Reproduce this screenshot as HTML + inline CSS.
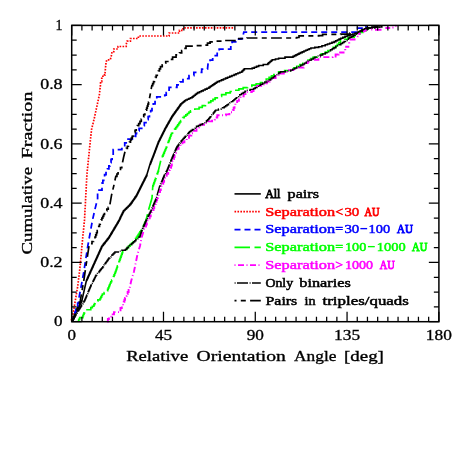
<!DOCTYPE html><html><head><meta charset="utf-8"><title>Cumulative Fraction</title>
<style>html,body{margin:0;padding:0;background:#fff;width:463px;height:463px;overflow:hidden;}svg{will-change:transform;display:block;position:absolute;left:0;top:0;}text{font-family:"Liberation Serif",serif;}</style></head><body>
<svg width="463" height="463" viewBox="0 0 463 463">
<rect x="0" y="0" width="463" height="463" fill="#fff"/>
<polyline fill="none" stroke="#000" stroke-width="1.6" stroke-linejoin="miter" points="72.00,321.00 72.36,321.00 72.36,320.18 72.73,320.18 72.73,319.36 73.09,319.36 73.09,318.55 73.45,318.55 73.45,317.73 73.82,317.73 73.82,316.91 74.18,316.91 74.18,316.09 74.55,316.09 74.55,315.27 74.91,315.27 74.91,314.45 75.27,314.45 75.27,313.64 75.64,313.64 75.64,312.82 76.00,312.82 76.00,312.00 76.40,312.00 76.40,311.20 76.80,311.20 76.80,310.40 77.20,310.40 77.20,309.60 77.60,309.60 77.60,308.80 78.00,308.80 78.00,308.00 78.40,308.00 78.40,307.20 78.80,307.20 78.80,306.40 79.20,306.40 79.20,305.60 79.60,305.60 79.60,304.80 80.00,304.80 80.00,304.00 80.40,304.00 80.40,303.20 80.80,303.20 80.80,302.40 81.20,302.40 81.20,301.60 81.60,301.60 81.60,300.80 82.00,300.80 82.00,300.00 86.40,280.50 86.75,280.50 86.75,279.71 87.11,279.71 87.11,278.93 87.46,278.93 87.46,278.14 87.82,278.14 87.82,277.35 88.17,277.35 88.17,276.57 88.53,276.57 88.53,275.78 88.88,275.78 88.88,275.00 89.24,275.00 89.24,274.21 89.59,274.21 89.59,273.42 89.95,273.42 89.95,272.64 90.30,272.64 90.30,271.85 90.65,271.85 90.65,271.06 91.01,271.06 91.01,270.28 91.36,270.28 91.36,269.49 91.72,269.49 91.72,268.70 92.07,268.70 92.07,267.92 92.43,267.92 92.43,267.13 92.78,267.13 92.78,266.35 93.14,266.35 93.14,265.56 93.49,265.56 93.49,264.77 93.85,264.77 93.85,263.99 94.20,263.99 94.20,263.20 94.57,263.20 94.57,262.38 94.94,262.38 94.94,261.56 95.31,261.56 95.31,260.74 95.69,260.74 95.69,259.92 96.06,259.92 96.06,259.10 96.43,259.10 96.43,258.29 96.80,258.29 96.80,257.47 97.17,257.47 97.17,256.65 97.54,256.65 97.54,255.83 97.91,255.83 97.91,255.01 98.29,255.01 98.29,254.19 98.66,254.19 98.66,253.37 99.03,253.37 99.03,252.55 99.40,252.55 99.40,251.73 99.77,251.73 99.77,250.91 100.14,250.91 100.14,250.10 100.51,250.10 100.51,249.28 100.89,249.28 100.89,248.46 101.26,248.46 101.26,247.64 101.63,247.64 101.63,246.82 102.00,246.82 102.00,246.00 102.63,246.00 102.63,245.21 103.25,245.21 103.25,244.42 103.88,244.42 103.88,243.63 104.51,243.63 104.51,242.84 105.14,242.84 105.14,242.05 105.76,242.05 105.76,241.25 106.39,241.25 106.39,240.46 107.02,240.46 107.02,239.67 107.65,239.67 107.65,238.88 108.27,238.88 108.27,238.09 108.90,238.09 108.90,237.30 109.37,237.30 109.37,236.51 109.84,236.51 109.84,235.73 110.30,235.73 110.30,234.94 110.77,234.94 110.77,234.15 111.24,234.15 111.24,233.37 111.71,233.37 111.71,232.58 112.18,232.58 112.18,231.80 112.65,231.80 112.65,231.01 113.11,231.01 113.11,230.22 113.58,230.22 113.58,229.44 114.05,229.44 114.05,228.65 114.52,228.65 114.52,227.86 114.99,227.86 114.99,227.08 115.45,227.08 115.45,226.29 115.92,226.29 115.92,225.50 116.39,225.50 116.39,224.72 116.86,224.72 116.86,223.93 117.33,223.93 117.33,223.15 117.80,223.15 117.80,222.36 118.26,222.36 118.26,221.57 118.73,221.57 118.73,220.79 119.20,220.79 119.20,220.00 119.56,220.00 119.56,219.20 119.92,219.20 119.92,218.40 120.28,218.40 120.28,217.60 120.64,217.60 120.64,216.80 121.00,216.80 121.00,216.00 121.43,216.00 121.43,215.13 121.87,215.13 121.87,214.27 122.30,214.27 122.30,213.40 122.73,213.40 122.73,212.53 123.17,212.53 123.17,211.67 123.60,211.67 123.60,210.80 124.37,210.80 124.37,210.03 125.13,210.03 125.13,209.27 125.90,209.27 125.90,208.50 126.67,208.50 126.67,207.73 127.43,207.73 127.43,206.97 128.20,206.97 128.20,206.20 128.97,206.20 128.97,205.43 129.73,205.43 129.73,204.67 130.50,204.67 130.50,203.90 131.05,203.90 131.05,203.12 131.59,203.12 131.59,202.34 132.14,202.34 132.14,201.55 132.68,201.55 132.68,200.77 133.23,200.77 133.23,199.99 133.77,199.99 133.77,199.21 134.32,199.21 134.32,198.43 134.86,198.43 134.86,197.65 135.41,197.65 135.41,196.86 135.95,196.86 135.95,196.08 136.50,196.08 136.50,195.30 136.90,195.30 136.90,194.50 137.30,194.50 137.30,193.70 137.70,193.70 137.70,192.90 138.10,192.90 138.10,192.10 138.50,192.10 138.50,191.30 138.90,191.30 138.90,190.50 139.30,190.50 139.30,189.70 139.70,189.70 139.70,188.90 140.10,188.90 140.10,188.10 140.50,188.10 140.50,187.30 140.90,187.30 140.90,186.50 141.30,186.50 141.30,185.70 141.70,185.70 141.70,184.90 142.10,184.90 142.10,184.11 142.50,184.11 142.50,183.32 142.90,183.32 142.90,182.52 143.30,182.52 143.30,181.73 143.70,181.73 143.70,180.94 144.10,180.94 144.10,180.15 144.50,180.15 144.50,179.35 144.90,179.35 144.90,178.56 145.30,178.56 145.30,177.77 145.70,177.77 145.70,176.98 146.10,176.98 146.10,176.18 146.50,176.18 146.50,175.39 146.90,175.39 146.90,174.60 150.00,164.20 150.30,164.20 150.30,163.43 150.60,163.43 150.60,162.65 150.90,162.65 150.90,161.88 151.20,161.88 151.20,161.11 151.50,161.11 151.50,160.34 151.80,160.34 151.80,159.56 152.10,159.56 152.10,158.79 152.40,158.79 152.40,158.02 152.70,158.02 152.70,157.25 153.00,157.25 153.00,156.47 153.30,156.47 153.30,155.70 153.61,155.70 153.61,154.88 153.91,154.88 153.91,154.06 154.22,154.06 154.22,153.25 154.52,153.25 154.52,152.43 154.83,152.43 154.83,151.61 155.14,151.61 155.14,150.79 155.44,150.79 155.44,149.98 155.75,149.98 155.75,149.16 156.05,149.16 156.05,148.34 156.36,148.34 156.36,147.52 156.66,147.52 156.66,146.71 156.97,146.71 156.97,145.89 157.28,145.89 157.28,145.07 157.58,145.07 157.58,144.25 157.89,144.25 157.89,143.44 158.19,143.44 158.19,142.62 158.50,142.62 158.50,141.80 158.91,141.80 158.91,140.99 159.31,140.99 159.31,140.18 159.72,140.18 159.72,139.36 160.12,139.36 160.12,138.55 160.53,138.55 160.53,137.74 160.94,137.74 160.94,136.93 161.34,136.93 161.34,136.12 161.75,136.12 161.75,135.31 162.15,135.31 162.15,134.49 162.56,134.49 162.56,133.68 162.96,133.68 162.96,132.87 163.37,132.87 163.37,132.06 163.78,132.06 163.78,131.25 164.18,131.25 164.18,130.44 164.59,130.44 164.59,129.62 164.99,129.62 164.99,128.81 165.40,128.81 165.40,128.00 165.86,128.00 165.86,127.19 166.32,127.19 166.32,126.39 166.78,126.39 166.78,125.58 167.24,125.58 167.24,124.77 167.70,124.77 167.70,123.97 168.16,123.97 168.16,123.16 168.62,123.16 168.62,122.35 169.08,122.35 169.08,121.55 169.54,121.55 169.54,120.74 170.00,120.74 170.00,119.93 170.46,119.93 170.46,119.13 170.92,119.13 170.92,118.32 171.38,118.32 171.38,117.51 171.84,117.51 171.84,116.71 172.30,116.71 172.30,115.90 172.88,115.90 172.88,115.09 173.46,115.09 173.46,114.29 174.04,114.29 174.04,113.48 174.62,113.48 174.62,112.67 175.20,112.67 175.20,111.87 175.78,111.87 175.78,111.06 176.36,111.06 176.36,110.25 176.94,110.25 176.94,109.45 177.52,109.45 177.52,108.64 178.10,108.64 178.10,107.83 178.68,107.83 178.68,107.03 179.26,107.03 179.26,106.22 179.84,106.22 179.84,105.41 180.42,105.41 180.42,104.61 181.00,104.61 181.00,103.80 181.92,103.80 181.92,103.04 182.84,103.04 182.84,102.28 183.76,102.28 183.76,101.52 184.68,101.52 184.68,100.76 185.60,100.76 185.60,100.00 187.25,100.00 187.25,99.22 188.90,99.22 188.90,98.45 190.55,98.45 190.55,97.68 192.20,97.68 192.20,96.90 193.28,96.90 193.28,96.04 194.36,96.04 194.36,95.18 195.44,95.18 195.44,94.32 196.52,94.32 196.52,93.46 197.60,93.46 197.60,92.60 199.48,92.60 199.48,91.73 201.37,91.73 201.37,90.87 203.25,90.87 203.25,90.00 205.13,90.00 205.13,89.13 207.02,89.13 207.02,88.27 208.90,88.27 208.90,87.40 210.10,87.40 210.10,86.57 211.30,86.57 211.30,85.74 212.50,85.74 212.50,84.91 213.70,84.91 213.70,84.09 214.90,84.09 214.90,83.26 216.10,83.26 216.10,82.43 217.30,82.43 217.30,81.60 219.36,81.60 219.36,80.74 221.42,80.74 221.42,79.88 223.48,79.88 223.48,79.02 225.54,79.02 225.54,78.16 227.60,78.16 227.60,77.30 229.77,77.30 229.77,76.40 231.93,76.40 231.93,75.50 234.10,75.50 234.10,74.60 236.03,74.60 236.03,73.80 237.95,73.80 237.95,73.00 239.88,73.00 239.88,72.20 241.80,72.20 241.80,71.40 242.67,71.40 242.67,70.53 243.53,70.53 243.53,69.67 244.40,69.67 244.40,68.80 252.20,68.80 252.20,68.10 254.37,68.10 254.37,67.23 256.53,67.23 256.53,66.37 258.70,66.37 258.70,65.50 263.25,65.50 263.25,64.55 267.80,64.55 267.80,63.60 268.70,63.60 268.70,62.82 269.60,62.82 269.60,62.04 270.50,62.04 270.50,61.26 271.40,61.26 271.40,60.48 272.30,60.48 272.30,59.70 275.45,59.70 275.45,59.00 278.60,59.00 278.60,58.30 285.00,58.30 285.00,57.10 291.50,57.10 293.00,57.10 293.00,56.35 294.50,56.35 294.50,55.60 296.00,55.60 296.00,54.85 297.50,54.85 297.50,54.10 299.00,54.10 299.00,53.35 300.50,53.35 300.50,52.60 302.23,52.60 302.23,51.83 303.97,51.83 303.97,51.07 305.70,51.07 305.70,50.30 307.43,50.30 307.43,49.53 309.17,49.53 309.17,48.77 310.90,48.77 310.90,48.00 314.80,48.00 314.80,47.35 318.70,47.35 318.70,46.70 321.95,46.70 321.95,45.75 325.20,45.75 325.20,44.80 327.45,44.80 327.45,44.00 329.70,44.00 329.70,43.20 331.95,43.20 331.95,42.40 334.20,42.40 334.20,41.60 335.82,41.60 335.82,40.77 337.45,40.77 337.45,39.95 339.07,39.95 339.07,39.12 340.70,39.12 340.70,38.30 342.85,38.30 342.85,37.35 345.00,37.35 345.00,36.40 347.52,36.40 347.52,35.58 350.04,35.58 350.04,34.76 352.56,34.76 352.56,33.94 355.08,33.94 355.08,33.12 357.60,33.12 357.60,32.30 359.34,32.30 359.34,31.44 361.08,31.44 361.08,30.58 362.82,30.58 362.82,29.72 364.56,29.72 364.56,28.86 366.30,28.86 366.30,28.00 372.00,28.00 372.00,27.00 381.80,27.00 381.80,26.80 381.80,25.80"/>
<polyline fill="none" stroke="#ff0000" stroke-width="1.7" stroke-linejoin="miter" stroke-dasharray="1.6 1.35" points="71.30,320.40 73.20,312.80 74.90,303.10 76.40,294.00 77.70,286.40 79.70,270.00 80.40,263.00 82.50,240.00 84.50,220.00 86.90,174.60 90.40,140.00 91.60,129.10 94.20,118.70 96.80,106.70 99.40,94.60 100.50,84.60 100.60,81.60 101.75,81.60 101.75,78.25 102.90,78.25 102.90,74.90 105.10,74.90 105.10,72.30 106.00,62.60 106.80,59.80 110.30,59.80 111.60,54.80 112.00,51.60 113.80,51.60 113.80,49.00 116.70,49.00 118.00,49.00 118.00,46.50 124.50,46.50 126.20,46.50 126.20,44.40 127.10,41.20 130.40,41.20 130.40,38.50 137.10,38.50 138.40,38.50 138.40,36.00 164.80,36.00 169.10,36.00 169.10,33.00 174.30,33.00 179.50,33.00 179.50,30.40 183.00,30.40 183.00,27.80 234.80,27.80"/>
<polyline fill="none" stroke="#0000ff" stroke-width="1.75" stroke-linejoin="miter" stroke-dasharray="6 4" points="72.00,321.00 72.94,321.00 72.94,318.00 73.89,318.00 73.89,315.00 74.83,315.00 74.83,312.00 75.77,312.00 75.77,309.00 76.71,309.00 76.71,306.00 77.66,306.00 77.66,303.00 78.60,303.00 78.60,300.00 83.80,272.00 87.80,246.00 92.50,220.00 95.00,209.10 97.60,198.70 97.60,190.00 102.00,190.00 102.00,183.20 102.87,183.20 102.87,180.33 103.73,180.33 103.73,177.47 104.60,177.47 104.60,174.60 106.03,174.60 106.03,171.70 107.47,171.70 107.47,168.80 108.90,168.80 108.90,165.90 109.98,165.90 109.98,162.68 111.05,162.68 111.05,159.45 112.12,159.45 112.12,156.22 113.20,156.22 113.20,153.00 113.20,149.50 121.80,149.50 121.80,148.60 123.27,148.60 123.27,145.73 124.73,145.73 124.73,142.87 126.20,142.87 126.20,140.00 126.20,139.00 134.00,139.00 134.83,139.00 134.83,136.27 135.67,136.27 135.67,133.53 136.50,133.53 136.50,130.80 139.10,130.80 139.10,128.25 141.70,128.25 141.70,125.70 144.30,125.70 144.30,122.65 146.90,122.65 146.90,119.60 148.17,119.60 148.17,116.63 149.43,116.63 149.43,113.67 150.70,113.67 150.70,110.70 152.00,110.70 152.00,107.25 153.30,107.25 153.30,103.80 155.05,103.80 155.05,100.35 156.80,100.35 156.80,96.90 164.80,96.90 164.80,95.20 166.23,95.20 166.23,92.60 167.67,92.60 167.67,90.00 169.10,90.00 169.10,87.40 176.90,87.40 176.90,84.80 179.95,84.80 179.95,81.75 183.00,81.75 183.00,78.70 189.00,78.70 189.00,75.50 193.90,75.50 193.90,72.30 200.40,72.30 201.70,72.30 201.70,69.10 207.50,69.10 208.10,63.20 210.10,63.20 210.10,60.00 212.70,60.00 212.70,57.40 215.30,57.40 215.30,55.50 217.20,55.50 217.20,51.60 219.20,51.60 219.20,49.00 230.80,49.00 230.80,43.80 232.10,43.80 232.10,41.80 236.70,41.80 236.70,39.00 241.00,39.00 241.00,38.50 243.30,38.50 243.30,34.50 243.80,32.00 355.90,32.00 355.90,32.20 357.60,32.20 357.60,28.00 364.60,28.00 366.00,28.00 366.00,25.50"/>
<polyline fill="none" stroke="#00ff00" stroke-width="1.65" stroke-linejoin="miter" stroke-dasharray="15.5 4.5" points="77.70,321.20 78.70,321.20 78.70,319.40 79.70,319.40 79.70,317.60 82.90,317.60 82.90,315.60 83.47,315.60 83.47,314.20 84.03,314.20 84.03,312.80 84.60,312.80 84.60,311.40 85.30,311.40 85.30,309.70 90.80,309.70 90.80,307.60 92.35,307.60 92.35,306.25 93.90,306.25 93.90,304.90 94.47,304.90 94.47,303.63 95.03,303.63 95.03,302.37 95.60,302.37 95.60,301.10 97.80,301.10 97.80,299.85 100.00,299.85 100.00,298.60 100.80,298.60 100.80,297.07 101.60,297.07 101.60,295.53 102.40,295.53 102.40,294.00 104.13,294.00 104.13,292.47 105.87,292.47 105.87,290.93 107.60,290.93 107.60,289.40 108.24,289.40 108.24,287.86 108.88,287.86 108.88,286.32 109.52,286.32 109.52,284.78 110.16,284.78 110.16,283.24 110.80,283.24 110.80,281.70 111.67,281.70 111.67,279.97 112.53,279.97 112.53,278.23 113.40,278.23 113.40,276.50 114.05,276.50 114.05,274.88 114.70,274.88 114.70,273.25 115.35,273.25 115.35,271.62 116.00,271.62 116.00,270.00 116.48,270.00 116.48,268.64 116.96,268.64 116.96,267.28 117.44,267.28 117.44,265.92 117.92,265.92 117.92,264.56 118.40,264.56 118.40,263.20 118.94,263.20 118.94,261.69 119.48,261.69 119.48,260.18 120.01,260.18 120.01,258.66 120.55,258.66 120.55,257.15 121.09,257.15 121.09,255.64 121.62,255.64 121.62,254.12 122.16,254.12 122.16,252.61 122.70,252.61 122.70,251.10 124.85,251.10 124.85,249.35 127.00,249.35 127.00,247.60 128.54,247.60 128.54,246.08 130.08,246.08 130.08,244.56 131.62,244.56 131.62,243.04 133.16,243.04 133.16,241.52 134.70,241.52 134.70,240.00 135.57,240.00 135.57,238.67 136.43,238.67 136.43,237.33 137.30,237.33 137.30,236.00 138.16,236.00 138.16,234.62 139.02,234.62 139.02,233.24 139.88,233.24 139.88,231.86 140.74,231.86 140.74,230.48 141.60,230.48 141.60,229.10 142.32,229.10 142.32,227.67 143.03,227.67 143.03,226.23 143.75,226.23 143.75,224.80 144.47,224.80 144.47,223.37 145.18,223.37 145.18,221.93 145.90,221.93 145.90,220.50 148.50,210.10 152.00,198.00 152.80,185.90 153.34,185.90 153.34,184.39 153.88,184.39 153.88,182.88 154.41,182.88 154.41,181.36 154.95,181.36 154.95,179.85 155.49,179.85 155.49,178.34 156.03,178.34 156.03,176.83 156.56,176.83 156.56,175.31 157.10,175.31 157.10,173.80 157.57,173.80 157.57,172.53 158.03,172.53 158.03,171.27 158.50,171.27 158.50,170.00 161.10,159.10 161.75,159.10 161.75,157.59 162.40,157.59 162.40,156.07 163.05,156.07 163.05,154.56 163.70,154.56 163.70,153.05 164.35,153.05 164.35,151.54 165.00,151.54 165.00,150.03 165.65,150.03 165.65,148.51 166.30,148.51 166.30,147.00 166.88,147.00 166.88,145.47 167.46,145.47 167.46,143.93 168.03,143.93 168.03,142.40 168.61,142.40 168.61,140.87 169.19,140.87 169.19,139.33 169.77,139.33 169.77,137.80 170.34,137.80 170.34,136.27 170.92,136.27 170.92,134.73 171.50,134.73 171.50,133.20 172.54,133.20 172.54,131.82 173.58,131.82 173.58,130.44 174.62,130.44 174.62,129.06 175.66,129.06 175.66,127.68 176.70,127.68 176.70,126.30 177.70,126.30 177.70,124.85 178.70,124.85 178.70,123.40 179.70,123.40 179.70,121.95 180.70,121.95 180.70,120.50 181.70,120.50 181.70,119.05 182.70,119.05 182.70,117.60 184.26,117.60 184.26,116.22 185.82,116.22 185.82,114.84 187.38,114.84 187.38,113.46 188.94,113.46 188.94,112.08 190.50,112.08 190.50,110.70 194.80,110.70 194.80,109.00 199.10,109.00 199.10,107.30 202.27,107.30 202.27,105.63 205.43,105.63 205.43,103.97 208.60,103.97 208.60,102.30 210.78,102.30 210.78,100.80 212.95,100.80 212.95,99.30 215.12,99.30 215.12,97.80 217.30,97.80 217.30,96.30 221.60,96.30 221.60,94.55 225.90,94.55 225.90,92.80 230.25,92.80 230.25,91.50 234.60,91.50 234.60,90.20 238.90,90.20 238.90,88.90 243.20,88.90 243.20,87.60 247.50,87.60 247.50,86.35 251.80,86.35 251.80,85.10 256.15,85.10 256.15,83.80 260.50,83.80 260.50,82.50 263.37,82.50 263.37,80.77 266.23,80.77 266.23,79.03 269.10,79.03 269.10,77.30 271.48,77.30 271.48,75.92 273.85,75.92 273.85,74.55 276.23,74.55 276.23,73.17 278.60,73.17 278.60,71.80 284.65,71.80 284.65,70.50 290.70,70.50 290.70,69.20 293.73,69.20 293.73,67.70 296.75,67.70 296.75,66.20 299.77,66.20 299.77,64.70 302.80,64.70 302.80,63.20 305.40,63.20 305.40,61.68 308.00,61.68 308.00,60.15 310.60,60.15 310.60,58.62 313.20,58.62 313.20,57.10 317.23,57.10 317.23,55.40 321.27,55.40 321.27,53.70 325.30,53.70 325.30,52.00 327.90,52.00 327.90,50.48 330.50,50.48 330.50,48.95 333.10,48.95 333.10,47.42 335.70,47.42 335.70,45.90 337.30,45.90 337.30,44.23 338.90,44.23 338.90,42.55 340.50,42.55 340.50,40.88 342.10,40.88 342.10,39.20 348.15,39.20 348.15,37.45 354.20,37.45 354.20,35.70 357.07,35.70 357.07,34.00 359.93,34.00 359.93,32.30 362.80,32.30 362.80,30.60 366.25,30.60 366.25,28.85 369.70,28.85 369.70,27.10"/>
<polyline fill="none" stroke="#ff00ff" stroke-width="1.9" stroke-linejoin="miter" stroke-dasharray="6 2.5 1 2.5" points="106.90,321.50 107.90,321.50 107.90,319.05 108.90,319.05 108.90,316.60 111.45,316.60 111.45,314.35 114.00,314.35 114.00,312.10 119.20,312.10 119.20,310.20 120.50,310.20 120.50,308.03 121.80,308.03 121.80,305.87 123.10,305.87 123.10,303.70 123.75,303.70 123.75,301.75 124.40,301.75 124.40,299.80 125.05,299.80 125.05,297.85 125.70,297.85 125.70,295.90 126.67,295.90 126.67,293.95 127.65,293.95 127.65,292.00 128.62,292.00 128.62,290.05 129.60,290.05 129.60,288.10 131.30,280.50 133.90,271.80 135.70,263.20 137.40,254.60 140.00,245.90 141.70,237.30 144.30,228.60 145.12,228.60 145.12,226.57 145.95,226.57 145.95,224.55 146.78,224.55 146.78,222.53 147.60,222.53 147.60,220.50 148.64,220.50 148.64,218.42 149.68,218.42 149.68,216.34 150.72,216.34 150.72,214.26 151.76,214.26 151.76,212.18 152.80,212.18 152.80,210.10 153.52,210.10 153.52,208.08 154.23,208.08 154.23,206.07 154.95,206.07 154.95,204.05 155.67,204.05 155.67,202.03 156.38,202.03 156.38,200.02 157.10,200.02 157.10,198.00 157.83,198.00 157.83,195.98 158.57,195.98 158.57,193.97 159.30,193.97 159.30,191.95 160.03,191.95 160.03,189.93 160.77,189.93 160.77,187.92 161.50,187.92 161.50,185.90 162.37,185.90 162.37,183.88 163.23,183.88 163.23,181.87 164.10,181.87 164.10,179.85 164.97,179.85 164.97,177.83 165.83,177.83 165.83,175.82 166.70,175.82 166.70,173.80 168.20,173.80 168.20,171.90 169.70,171.90 169.70,170.00 170.40,170.00 170.40,167.82 171.10,167.82 171.10,165.64 171.80,165.64 171.80,163.46 172.50,163.46 172.50,161.28 173.20,161.28 173.20,159.10 173.90,159.10 173.90,157.02 174.60,157.02 174.60,154.94 175.30,154.94 175.30,152.86 176.00,152.86 176.00,150.78 176.70,150.78 176.70,148.70 178.62,148.70 178.62,146.55 180.55,146.55 180.55,144.40 182.47,144.40 182.47,142.25 184.40,142.25 184.40,140.10 186.70,140.10 186.70,137.80 189.00,137.80 189.00,135.50 191.30,135.50 191.30,133.20 193.90,133.20 193.90,130.90 196.50,130.90 196.50,128.60 199.10,128.60 199.10,126.30 200.00,126.30 200.00,124.80 204.03,124.80 204.03,123.07 208.07,123.07 208.07,121.33 212.10,121.33 212.10,119.60 214.70,119.60 214.70,117.45 217.30,117.45 217.30,115.30 225.90,115.30 225.90,114.40 229.35,114.40 229.35,112.25 232.80,112.25 232.80,110.10 233.67,110.10 233.67,107.80 234.53,107.80 234.53,105.50 235.40,105.50 235.40,103.20 237.13,103.20 237.13,100.90 238.87,100.90 238.87,98.60 240.60,98.60 240.60,96.30 243.65,96.30 243.65,94.15 246.70,94.15 246.70,92.00 251.80,92.00 251.80,91.10 253.53,91.10 253.53,89.37 255.27,89.37 255.27,87.63 257.00,87.63 257.00,85.90 263.90,85.90 263.90,83.30 266.80,83.30 266.80,81.57 269.70,81.57 269.70,79.83 272.60,79.83 272.60,78.10 275.60,78.10 275.60,75.85 278.60,75.85 278.60,73.60 283.80,73.60 283.80,71.85 289.00,71.85 289.00,70.10 295.90,70.10 295.90,67.50 303.70,67.50 303.70,64.90 305.70,64.90 305.70,63.17 307.70,63.17 307.70,61.43 309.70,61.43 309.70,59.70 318.40,59.70 318.40,57.10 330.50,57.10 332.60,57.10 332.60,56.50 335.60,56.50 335.60,54.50 338.60,54.50 338.60,52.50"/>
<polyline fill="none" stroke="#000" stroke-width="1.45" stroke-linejoin="miter" stroke-dasharray="11 1.6 1 1.4" points="72.00,321.00 72.57,321.00 72.57,320.00 73.14,320.00 73.14,319.00 73.71,319.00 73.71,318.00 74.29,318.00 74.29,317.00 74.86,317.00 74.86,316.00 75.43,316.00 75.43,315.00 76.00,315.00 76.00,314.00 76.62,314.00 76.62,313.00 77.24,313.00 77.24,312.00 77.86,312.00 77.86,311.00 78.49,311.00 78.49,310.00 79.11,310.00 79.11,309.00 79.73,309.00 79.73,308.00 80.35,308.00 80.35,307.00 80.97,307.00 80.97,306.00 81.59,306.00 81.59,305.00 82.21,305.00 82.21,304.00 82.84,304.00 82.84,303.00 83.46,303.00 83.46,302.00 84.08,302.00 84.08,301.00 84.70,301.00 84.70,300.00 85.13,300.00 85.13,298.98 85.56,298.98 85.56,297.96 85.99,297.96 85.99,296.94 86.41,296.94 86.41,295.91 86.84,295.91 86.84,294.89 87.27,294.89 87.27,293.87 87.70,293.87 87.70,292.85 88.13,292.85 88.13,291.83 88.56,291.83 88.56,290.81 88.99,290.81 88.99,289.79 89.41,289.79 89.41,288.76 89.84,288.76 89.84,287.74 90.27,287.74 90.27,286.72 90.70,286.72 90.70,285.70 91.22,285.70 91.22,284.66 91.74,284.66 91.74,283.62 92.26,283.62 92.26,282.58 92.78,282.58 92.78,281.54 93.30,281.54 93.30,280.50 93.82,280.50 93.82,279.46 94.34,279.46 94.34,278.42 94.86,278.42 94.86,277.38 95.38,277.38 95.38,276.34 95.90,276.34 95.90,275.30 96.67,275.30 96.67,274.34 97.43,274.34 97.43,273.39 98.20,273.39 98.20,272.43 98.97,272.43 98.97,271.48 99.73,271.48 99.73,270.52 100.50,270.52 100.50,269.57 101.27,269.57 101.27,268.61 102.03,268.61 102.03,267.66 102.80,267.66 102.80,266.70 103.48,266.70 103.48,265.73 104.16,265.73 104.16,264.77 104.83,264.77 104.83,263.80 105.51,263.80 105.51,262.83 106.19,262.83 106.19,261.87 106.87,261.87 106.87,260.90 107.54,260.90 107.54,259.93 108.22,259.93 108.22,258.97 108.90,258.97 108.90,258.00 109.90,258.00 109.90,257.00 110.90,257.00 110.90,256.00 111.90,256.00 111.90,255.00 112.90,255.00 112.90,254.00 113.90,254.00 113.90,253.00 114.90,253.00 114.90,252.00 118.37,252.00 118.37,251.13 121.83,251.13 121.83,250.27 125.30,250.27 125.30,249.40 126.36,249.40 126.36,248.43 127.41,248.43 127.41,247.47 128.47,247.47 128.47,246.50 129.52,246.50 129.52,245.53 130.58,245.53 130.58,244.57 131.63,244.57 131.63,243.60 132.69,243.60 132.69,242.63 133.74,242.63 133.74,241.67 134.80,241.67 134.80,240.70 135.82,240.70 135.82,239.76 136.84,239.76 136.84,238.82 137.86,238.82 137.86,237.88 138.88,237.88 138.88,236.94 139.90,236.94 139.90,236.00 140.20,236.00 140.20,235.07 140.50,235.07 140.50,234.13 140.80,234.13 140.80,233.20 141.10,233.20 141.10,232.27 141.40,232.27 141.40,231.33 141.70,231.33 141.70,230.40 142.12,230.40 142.12,229.41 142.54,229.41 142.54,228.42 142.96,228.42 142.96,227.43 143.38,227.43 143.38,226.44 143.80,226.44 143.80,225.45 144.22,225.45 144.22,224.46 144.64,224.46 144.64,223.47 145.06,223.47 145.06,222.48 145.48,222.48 145.48,221.49 145.90,221.49 145.90,220.50 146.42,220.50 146.42,219.46 146.94,219.46 146.94,218.42 147.46,218.42 147.46,217.38 147.98,217.38 147.98,216.34 148.50,216.34 148.50,215.30 149.02,215.30 149.02,214.26 149.54,214.26 149.54,213.22 150.06,213.22 150.06,212.18 150.58,212.18 150.58,211.14 151.10,211.14 151.10,210.10 151.53,210.10 151.53,209.09 151.97,209.09 151.97,208.08 152.40,208.08 152.40,207.07 152.83,207.07 152.83,206.07 153.27,206.07 153.27,205.06 153.70,205.06 153.70,204.05 154.13,204.05 154.13,203.04 154.57,203.04 154.57,202.03 155.00,202.03 155.00,201.03 155.43,201.03 155.43,200.02 155.87,200.02 155.87,199.01 156.30,199.01 156.30,198.00 159.70,185.90 160.13,185.90 160.13,184.89 160.57,184.89 160.57,183.88 161.00,183.88 161.00,182.88 161.43,182.88 161.43,181.87 161.87,181.87 161.87,180.86 162.30,180.86 162.30,179.85 162.73,179.85 162.73,178.84 163.17,178.84 163.17,177.83 163.60,177.83 163.60,176.83 164.03,176.83 164.03,175.82 164.47,175.82 164.47,174.81 164.90,174.81 164.90,173.80 165.45,173.80 165.45,172.85 166.00,172.85 166.00,171.90 166.55,171.90 166.55,170.95 167.10,170.95 167.10,170.00 167.50,170.00 167.50,169.01 167.90,169.01 167.90,168.02 168.30,168.02 168.30,167.03 168.70,167.03 168.70,166.04 169.10,166.04 169.10,165.05 169.50,165.05 169.50,164.05 169.90,164.05 169.90,163.06 170.30,163.06 170.30,162.07 170.70,162.07 170.70,161.08 171.10,161.08 171.10,160.09 171.50,160.09 171.50,159.10 171.93,159.10 171.93,158.09 172.37,158.09 172.37,157.08 172.80,157.08 172.80,156.07 173.23,156.07 173.23,155.07 173.67,155.07 173.67,154.06 174.10,154.06 174.10,153.05 174.53,153.05 174.53,152.04 174.97,152.04 174.97,151.03 175.40,151.03 175.40,150.03 175.83,150.03 175.83,149.02 176.27,149.02 176.27,148.01 176.70,148.01 176.70,147.00 177.43,147.00 177.43,146.01 178.16,146.01 178.16,145.03 178.89,145.03 178.89,144.04 179.61,144.04 179.61,143.06 180.34,143.06 180.34,142.07 181.07,142.07 181.07,141.09 181.80,141.09 181.80,140.10 182.67,140.10 182.67,139.14 183.53,139.14 183.53,138.19 184.40,138.19 184.40,137.23 185.27,137.23 185.27,136.28 186.13,136.28 186.13,135.32 187.00,135.32 187.00,134.37 187.87,134.37 187.87,133.41 188.73,133.41 188.73,132.46 189.60,132.46 189.60,131.50 190.98,131.50 190.98,130.46 192.36,130.46 192.36,129.42 193.74,129.42 193.74,128.38 195.12,128.38 195.12,127.34 196.50,127.34 196.50,126.30 198.45,126.30 198.45,125.42 200.40,125.42 200.40,124.55 202.35,124.55 202.35,123.67 204.30,123.67 204.30,122.80 205.38,122.80 205.38,121.78 206.45,121.78 206.45,120.75 207.53,120.75 207.53,119.72 208.60,119.72 208.60,118.70 209.38,118.70 209.38,117.74 210.16,117.74 210.16,116.79 210.93,116.79 210.93,115.83 211.71,115.83 211.71,114.88 212.49,114.88 212.49,113.92 213.27,113.92 213.27,112.97 214.04,112.97 214.04,112.01 214.82,112.01 214.82,111.06 215.60,111.06 215.60,110.10 218.47,110.10 218.47,108.97 221.33,108.97 221.33,107.83 224.20,107.83 224.20,106.70 225.63,106.70 225.63,105.68 227.07,105.68 227.07,104.67 228.50,104.67 228.50,103.65 229.93,103.65 229.93,102.63 231.37,102.63 231.37,101.62 232.80,101.62 232.80,100.60 233.95,100.60 233.95,99.60 235.10,99.60 235.10,98.60 236.25,98.60 236.25,97.60 237.40,97.60 237.40,96.60 238.55,96.60 238.55,95.60 239.70,95.60 239.70,94.60 241.45,94.60 241.45,93.50 243.20,93.50 243.20,92.40 244.95,92.40 244.95,91.30 246.70,91.30 246.70,90.20 250.15,90.20 250.15,89.35 253.60,89.35 253.60,88.50 255.32,88.50 255.32,87.42 257.05,87.42 257.05,86.35 258.77,86.35 258.77,85.28 260.50,85.28 260.50,84.20 262.65,84.20 262.65,83.12 264.80,83.12 264.80,82.05 266.95,82.05 266.95,80.98 269.10,80.98 269.10,79.90 270.51,79.90 270.51,78.89 271.93,78.89 271.93,77.88 273.34,77.88 273.34,76.86 274.75,76.86 274.75,75.85 276.16,75.85 276.16,74.84 277.57,74.84 277.57,73.83 278.99,73.83 278.99,72.81 280.40,72.81 280.40,71.80 285.55,71.80 285.55,70.95 290.70,70.95 290.70,70.10 292.72,70.10 292.72,69.10 294.73,69.10 294.73,68.10 296.75,68.10 296.75,67.10 298.77,67.10 298.77,66.10 300.78,66.10 300.78,65.10 302.80,65.10 302.80,64.10 304.53,64.10 304.53,63.10 306.26,63.10 306.26,62.10 307.99,62.10 307.99,61.10 309.71,61.10 309.71,60.10 311.44,60.10 311.44,59.10 313.17,59.10 313.17,58.10 314.90,58.10 314.90,57.10 317.50,57.10 317.50,56.02 320.10,56.02 320.10,54.95 322.70,54.95 322.70,53.88 325.30,53.88 325.30,52.80 327.03,52.80 327.03,51.80 328.77,51.80 328.77,50.80 330.50,50.80 330.50,49.80 332.23,49.80 332.23,48.80 333.97,48.80 333.97,47.80 335.70,47.80 335.70,46.80 337.43,46.80 337.43,45.72 339.15,45.72 339.15,44.65 340.88,44.65 340.88,43.58 342.60,43.58 342.60,42.50 344.08,42.50 344.08,41.46 345.56,41.46 345.56,40.42 347.04,40.42 347.04,39.38 348.52,39.38 348.52,38.34 350.00,38.34 350.00,37.30 351.67,37.30 351.67,36.25 353.33,36.25 353.33,35.20 355.00,35.20 355.00,34.15 356.67,34.15 356.67,33.10 358.33,33.10 358.33,32.05 360.00,32.05 360.00,31.00 362.67,31.00 362.67,30.00 365.33,30.00 365.33,29.00 368.00,29.00 368.00,28.00 372.00,28.00 372.00,27.20 380.00,27.20 380.00,25.80"/>
<polyline fill="none" stroke="#000" stroke-width="1.7" stroke-linejoin="miter" stroke-dasharray="10.8 4.3 5 4.3" points="72.00,321.00 72.84,321.00 72.84,318.90 73.68,318.90 73.68,316.80 74.52,316.80 74.52,314.70 75.36,314.70 75.36,312.60 76.20,312.60 76.20,310.50 77.04,310.50 77.04,308.40 77.88,308.40 77.88,306.30 78.72,306.30 78.72,304.20 79.56,304.20 79.56,302.10 80.40,302.10 80.40,300.00 83.80,280.50 86.40,263.00 89.00,246.00 90.50,246.00 90.50,243.75 92.00,243.75 92.00,241.50 93.50,241.50 93.50,239.25 95.00,239.25 95.00,237.00 95.75,237.00 95.75,234.88 96.50,234.88 96.50,232.75 97.25,232.75 97.25,230.62 98.00,230.62 98.00,228.50 98.75,228.50 98.75,226.38 99.50,226.38 99.50,224.25 100.25,224.25 100.25,222.12 101.00,222.12 101.00,220.00 101.88,220.00 101.88,218.16 102.76,218.16 102.76,216.32 103.64,216.32 103.64,214.48 104.52,214.48 104.52,212.64 105.40,212.64 105.40,210.80 106.83,210.80 106.83,209.10 108.27,209.10 108.27,207.40 109.70,207.40 109.70,205.70 111.50,195.30 114.00,184.90 115.80,176.30 116.93,176.30 116.93,174.00 118.07,174.00 118.07,171.70 119.20,171.70 119.20,169.40 120.50,169.40 120.50,167.65 121.80,167.65 121.80,165.90 123.60,157.30 125.30,150.40 126.34,150.40 126.34,148.32 127.38,148.32 127.38,146.24 128.42,146.24 128.42,144.16 129.46,144.16 129.46,142.08 130.50,142.08 130.50,140.00 131.35,140.00 131.35,138.15 132.20,138.15 132.20,136.30 133.05,136.30 133.05,134.45 133.90,134.45 133.90,132.60 135.07,132.60 135.07,130.30 136.23,130.30 136.23,128.00 137.40,128.00 137.40,125.70 138.70,125.70 138.70,123.53 140.00,123.53 140.00,121.35 141.30,121.35 141.30,119.17 142.60,119.17 142.60,117.00 143.73,117.00 143.73,114.70 144.87,114.70 144.87,112.40 146.00,112.40 146.00,110.10 146.64,110.10 146.64,108.08 147.28,108.08 147.28,106.06 147.92,106.06 147.92,104.04 148.56,104.04 148.56,102.02 149.20,102.02 149.20,100.00 151.80,85.70 152.68,85.70 152.68,83.62 153.56,83.62 153.56,81.54 154.44,81.54 154.44,79.46 155.32,79.46 155.32,77.38 156.20,77.38 156.20,75.30 157.27,75.30 157.27,73.15 158.35,73.15 158.35,71.00 159.43,71.00 159.43,68.85 160.50,68.85 160.50,66.70 162.23,66.70 162.23,64.97 163.97,64.97 163.97,63.23 165.70,63.23 165.70,61.50 169.15,61.50 169.15,59.30 172.60,59.30 172.60,57.10 176.05,57.10 176.05,54.95 179.50,54.95 179.50,52.80 181.67,52.80 181.67,50.60 183.83,50.60 183.83,48.40 186.00,48.40 186.00,46.20 195.90,46.20 195.90,45.70 203.00,45.70 203.00,45.10 207.50,45.10 207.50,43.10 210.10,43.10 210.10,41.80 214.60,41.80 214.60,41.20 223.70,41.20 223.70,40.50 234.00,40.50 234.00,40.70 236.70,40.70 236.70,38.60 247.00,38.60 247.00,38.00 296.70,38.00 296.70,37.50 299.00,37.50 299.00,35.80 318.70,35.80 318.70,35.70 322.60,35.70 322.60,34.40 340.70,34.40 340.70,34.20 350.00,34.20 350.00,33.00 358.00,33.00 358.00,31.00 362.00,31.00 362.00,29.50 366.00,29.50 366.00,28.00 375.00,28.00 375.00,27.20 381.00,27.20 381.00,25.80"/>
<path fill="none" stroke="#ff00ff" stroke-width="2.0" d="M339.2 52.6L344.5 52.6M345.2 50.3L345.2 49.1M345.2 46.7L349.3 46.7M349.2 43.5L349.2 42.3M349.7 39.6L355.5 39.6M357.3 36.9L357.9 36.0M358.3 34.4L360.7 33.2M363.3 31.8L366.6 29.9M371.2 29.6L372.3 29.6M375 29.8L381.5 29.8M385.4 28.0L390.2 27.9M392.4 27.5L393.5 27.4M395.2 26.3L396.2 25.6"/>
<rect x="71.7" y="25.4" width="367.2" height="296.3" fill="none" stroke="#000" stroke-width="1.5"/>
<path d="M71.70 321.7v-10M71.70 25.4v10M81.90 321.7v-5M81.90 25.4v5M92.10 321.7v-5M92.10 25.4v5M102.30 321.7v-5M102.30 25.4v5M112.49 321.7v-5M112.49 25.4v5M122.69 321.7v-5M122.69 25.4v5M132.89 321.7v-5M132.89 25.4v5M143.09 321.7v-5M143.09 25.4v5M153.29 321.7v-5M153.29 25.4v5M163.49 321.7v-10M163.49 25.4v10M173.69 321.7v-5M173.69 25.4v5M183.88 321.7v-5M183.88 25.4v5M194.08 321.7v-5M194.08 25.4v5M204.28 321.7v-5M204.28 25.4v5M214.48 321.7v-5M214.48 25.4v5M224.68 321.7v-5M224.68 25.4v5M234.88 321.7v-5M234.88 25.4v5M245.08 321.7v-5M245.08 25.4v5M255.28 321.7v-10M255.28 25.4v10M265.47 321.7v-5M265.47 25.4v5M275.67 321.7v-5M275.67 25.4v5M285.87 321.7v-5M285.87 25.4v5M296.07 321.7v-5M296.07 25.4v5M306.27 321.7v-5M306.27 25.4v5M316.47 321.7v-5M316.47 25.4v5M326.67 321.7v-5M326.67 25.4v5M336.86 321.7v-5M336.86 25.4v5M347.06 321.7v-10M347.06 25.4v10M357.26 321.7v-5M357.26 25.4v5M367.46 321.7v-5M367.46 25.4v5M377.66 321.7v-5M377.66 25.4v5M387.86 321.7v-5M387.86 25.4v5M398.06 321.7v-5M398.06 25.4v5M408.25 321.7v-5M408.25 25.4v5M418.45 321.7v-5M418.45 25.4v5M428.65 321.7v-5M428.65 25.4v5M438.85 321.7v-10M438.85 25.4v10M71.7 321.70h10M438.85 321.70h-10M71.7 306.88h5M438.85 306.88h-5M71.7 292.07h5M438.85 292.07h-5M71.7 277.25h5M438.85 277.25h-5M71.7 262.44h10M438.85 262.44h-10M71.7 247.62h5M438.85 247.62h-5M71.7 232.81h5M438.85 232.81h-5M71.7 218.00h5M438.85 218.00h-5M71.7 203.18h10M438.85 203.18h-10M71.7 188.36h5M438.85 188.36h-5M71.7 173.55h5M438.85 173.55h-5M71.7 158.73h5M438.85 158.73h-5M71.7 143.92h10M438.85 143.92h-10M71.7 129.10h5M438.85 129.10h-5M71.7 114.29h5M438.85 114.29h-5M71.7 99.47h5M438.85 99.47h-5M71.7 84.66h10M438.85 84.66h-10M71.7 69.84h5M438.85 69.84h-5M71.7 55.03h5M438.85 55.03h-5M71.7 40.21h5M438.85 40.21h-5M71.7 25.40h10M438.85 25.40h-10" stroke="#000" stroke-width="1.25" fill="none"/>
<text x="67.5" y="340.2" font-size="14.5" font-weight="normal" fill="#000" text-anchor="start" textLength="8.5" lengthAdjust="spacingAndGlyphs" stroke="#000" stroke-width="0.3">0</text>
<text x="154.9" y="340.2" font-size="14.5" font-weight="normal" fill="#000" text-anchor="start" textLength="17.2" lengthAdjust="spacingAndGlyphs" stroke="#000" stroke-width="0.3">45</text>
<text x="246.7" y="340.2" font-size="14.5" font-weight="normal" fill="#000" text-anchor="start" textLength="17.2" lengthAdjust="spacingAndGlyphs" stroke="#000" stroke-width="0.3">90</text>
<text x="334.1" y="340.2" font-size="14.5" font-weight="normal" fill="#000" text-anchor="start" textLength="26" lengthAdjust="spacingAndGlyphs" stroke="#000" stroke-width="0.3">135</text>
<text x="425.8" y="340.2" font-size="14.5" font-weight="normal" fill="#000" text-anchor="start" textLength="26" lengthAdjust="spacingAndGlyphs" stroke="#000" stroke-width="0.3">180</text>
<text x="54.1" y="326.4" font-size="14.5" font-weight="normal" fill="#000" text-anchor="start" textLength="8.5" lengthAdjust="spacingAndGlyphs" stroke="#000" stroke-width="0.3">0</text>
<text x="40.2" y="267.1" font-size="14.5" font-weight="normal" fill="#000" text-anchor="start" textLength="22.4" lengthAdjust="spacingAndGlyphs" stroke="#000" stroke-width="0.3">0.2</text>
<text x="40.2" y="207.9" font-size="14.5" font-weight="normal" fill="#000" text-anchor="start" textLength="22.4" lengthAdjust="spacingAndGlyphs" stroke="#000" stroke-width="0.3">0.4</text>
<text x="40.2" y="148.6" font-size="14.5" font-weight="normal" fill="#000" text-anchor="start" textLength="22.4" lengthAdjust="spacingAndGlyphs" stroke="#000" stroke-width="0.3">0.6</text>
<text x="40.2" y="89.4" font-size="14.5" font-weight="normal" fill="#000" text-anchor="start" textLength="22.4" lengthAdjust="spacingAndGlyphs" stroke="#000" stroke-width="0.3">0.8</text>
<text x="55.6" y="30.1" font-size="14.5" font-weight="normal" fill="#000" text-anchor="start" textLength="7" lengthAdjust="spacingAndGlyphs" stroke="#000" stroke-width="0.3">1</text>
<text x="126.2" y="360.5" font-size="15.6" font-weight="normal" fill="#000" text-anchor="start" textLength="62.0" lengthAdjust="spacingAndGlyphs" stroke="#000" stroke-width="0.35">Relative</text><text x="196.6" y="360.5" font-size="15.6" font-weight="normal" fill="#000" text-anchor="start" textLength="89.3" lengthAdjust="spacingAndGlyphs" stroke="#000" stroke-width="0.35">Orientation</text><text x="294.1" y="360.5" font-size="15.6" font-weight="normal" fill="#000" text-anchor="start" textLength="42.3" lengthAdjust="spacingAndGlyphs" stroke="#000" stroke-width="0.35">Angle</text><text x="344.0" y="360.5" font-size="15.6" font-weight="normal" fill="#000" text-anchor="start" textLength="39.9" lengthAdjust="spacingAndGlyphs" stroke="#000" stroke-width="0.35">[deg]</text>
<g transform="translate(32.2,0) rotate(-90)"><text x="-254.5" y="0.0" font-size="15.6" font-weight="normal" fill="#000" text-anchor="start" textLength="87.5" lengthAdjust="spacingAndGlyphs" stroke="#000" stroke-width="0.35">Cumulative</text><text x="-158.4" y="0.0" font-size="15.6" font-weight="normal" fill="#000" text-anchor="start" textLength="66.8" lengthAdjust="spacingAndGlyphs" stroke="#000" stroke-width="0.35">Fraction</text></g>
<line x1="234.5" y1="193.9" x2="260.8" y2="193.9" stroke="#000" stroke-width="1.6"/>
<text x="265.3" y="197.7" font-size="13.2" font-weight="normal" fill="#000" text-anchor="start" textLength="15.1" lengthAdjust="spacingAndGlyphs" stroke="#000" stroke-width="0.88">All</text><text x="287.6" y="197.7" font-size="13.2" font-weight="normal" fill="#000" text-anchor="start" textLength="31.4" lengthAdjust="spacingAndGlyphs" stroke="#000" stroke-width="0.5">pairs</text>
<line x1="234.5" y1="211.7" x2="260.8" y2="211.7" stroke="#ff0000" stroke-width="1.7" stroke-dasharray="1.6 1.35"/>
<text x="265.2" y="215.5" font-size="13.2" font-weight="normal" fill="#ff0000" text-anchor="start" textLength="69.9" lengthAdjust="spacingAndGlyphs" stroke="#ff0000" stroke-width="0.5">Separation</text><text x="335.3" y="215.5" font-size="13.2" font-weight="normal" fill="#ff0000" text-anchor="start" textLength="7.9" lengthAdjust="spacingAndGlyphs" stroke="#ff0000" stroke-width="0.54">&lt;</text><text x="344.4" y="215.5" font-size="13.2" font-weight="normal" fill="#ff0000" text-anchor="start" textLength="14.9" lengthAdjust="spacingAndGlyphs" stroke="#ff0000" stroke-width="0.5">30</text><text x="364.6" y="215.5" font-size="13.2" font-weight="normal" fill="#ff0000" text-anchor="start" textLength="14.9" lengthAdjust="spacingAndGlyphs" stroke="#ff0000" stroke-width="1.05">AU</text>
<line x1="234.5" y1="229.5" x2="260.8" y2="229.5" stroke="#0000ff" stroke-width="1.75" stroke-dasharray="6 4"/>
<text x="265.2" y="233.3" font-size="13.2" font-weight="normal" fill="#0000ff" text-anchor="start" textLength="69.9" lengthAdjust="spacingAndGlyphs" stroke="#0000ff" stroke-width="0.5">Separation</text><text x="335.3" y="233.3" font-size="13.2" font-weight="normal" fill="#0000ff" text-anchor="start" textLength="7.9" lengthAdjust="spacingAndGlyphs" stroke="#0000ff" stroke-width="0.54">=</text><text x="344.4" y="233.3" font-size="13.2" font-weight="normal" fill="#0000ff" text-anchor="start" textLength="14.9" lengthAdjust="spacingAndGlyphs" stroke="#0000ff" stroke-width="0.5">30</text><text x="360.1" y="233.3" font-size="13.2" font-weight="normal" fill="#0000ff" text-anchor="start" textLength="7.3" lengthAdjust="spacingAndGlyphs" stroke="#0000ff" stroke-width="0.69">&#8722;</text><text x="368.6" y="233.3" font-size="13.2" font-weight="normal" fill="#0000ff" text-anchor="start" textLength="21.5" lengthAdjust="spacingAndGlyphs" stroke="#0000ff" stroke-width="0.5">100</text><text x="397.0" y="233.3" font-size="13.2" font-weight="normal" fill="#0000ff" text-anchor="start" textLength="15.8" lengthAdjust="spacingAndGlyphs" stroke="#0000ff" stroke-width="1.05">AU</text>
<line x1="234.5" y1="247.3" x2="260.8" y2="247.3" stroke="#00ff00" stroke-width="1.65" stroke-dasharray="15.5 4.5"/>
<text x="265.2" y="251.1" font-size="13.2" font-weight="normal" fill="#00ff00" text-anchor="start" textLength="69.9" lengthAdjust="spacingAndGlyphs" stroke="#00ff00" stroke-width="0.5">Separation</text><text x="335.3" y="251.1" font-size="13.2" font-weight="normal" fill="#00ff00" text-anchor="start" textLength="7.9" lengthAdjust="spacingAndGlyphs" stroke="#00ff00" stroke-width="0.54">=</text><text x="345.0" y="251.1" font-size="13.2" font-weight="normal" fill="#00ff00" text-anchor="start" textLength="21.2" lengthAdjust="spacingAndGlyphs" stroke="#00ff00" stroke-width="0.52">100</text><text x="367.6" y="251.1" font-size="13.2" font-weight="normal" fill="#00ff00" text-anchor="start" textLength="7.4" lengthAdjust="spacingAndGlyphs" stroke="#00ff00" stroke-width="0.66">&#8722;</text><text x="376.8" y="251.1" font-size="13.2" font-weight="normal" fill="#00ff00" text-anchor="start" textLength="28.8" lengthAdjust="spacingAndGlyphs" stroke="#00ff00" stroke-width="0.5">1000</text><text x="412.1" y="251.1" font-size="13.2" font-weight="normal" fill="#00ff00" text-anchor="start" textLength="15.2" lengthAdjust="spacingAndGlyphs" stroke="#00ff00" stroke-width="1.05">AU</text>
<line x1="234.5" y1="265.1" x2="260.8" y2="265.1" stroke="#ff00ff" stroke-width="1.9" stroke-dasharray="6 2.5 1 2.5" stroke-dashoffset="8.5"/>
<text x="265.2" y="268.9" font-size="13.2" font-weight="normal" fill="#ff00ff" text-anchor="start" textLength="69.9" lengthAdjust="spacingAndGlyphs" stroke="#ff00ff" stroke-width="0.5">Separation</text><text x="335.3" y="268.9" font-size="13.2" font-weight="normal" fill="#ff00ff" text-anchor="start" textLength="7.9" lengthAdjust="spacingAndGlyphs" stroke="#ff00ff" stroke-width="0.54">&gt;</text><text x="345.0" y="268.9" font-size="13.2" font-weight="normal" fill="#ff00ff" text-anchor="start" textLength="27.9" lengthAdjust="spacingAndGlyphs" stroke="#ff00ff" stroke-width="0.55">1000</text><text x="379.8" y="268.9" font-size="13.2" font-weight="normal" fill="#ff00ff" text-anchor="start" textLength="14.9" lengthAdjust="spacingAndGlyphs" stroke="#ff00ff" stroke-width="1.05">AU</text>
<line x1="234.5" y1="282.9" x2="260.8" y2="282.9" stroke="#000" stroke-width="1.45" stroke-dasharray="11 1.6 1 1.4" stroke-dashoffset="12.5"/>
<text x="265.5" y="286.7" font-size="13.2" font-weight="normal" fill="#000" text-anchor="start" textLength="27.6" lengthAdjust="spacingAndGlyphs" stroke="#000" stroke-width="0.57">Only</text><text x="299.3" y="286.7" font-size="13.2" font-weight="normal" fill="#000" text-anchor="start" textLength="51.5" lengthAdjust="spacingAndGlyphs" stroke="#000" stroke-width="0.5">binaries</text>
<line x1="234.5" y1="300.7" x2="260.8" y2="300.7" stroke="#000" stroke-width="1.7" stroke-dasharray="10.8 4.3 5 4.3" stroke-dashoffset="8.8"/>
<text x="265.5" y="304.5" font-size="13.2" font-weight="normal" fill="#000" text-anchor="start" textLength="31.8" lengthAdjust="spacingAndGlyphs" stroke="#000" stroke-width="0.5">Pairs</text><text x="304.5" y="304.5" font-size="13.2" font-weight="normal" fill="#000" text-anchor="start" textLength="11.1" lengthAdjust="spacingAndGlyphs" stroke="#000" stroke-width="0.5">in</text><text x="322.5" y="304.5" font-size="13.2" font-weight="normal" fill="#000" text-anchor="start" textLength="86.4" lengthAdjust="spacingAndGlyphs" stroke="#000" stroke-width="0.5">triples/quads</text>
</svg></body></html>
